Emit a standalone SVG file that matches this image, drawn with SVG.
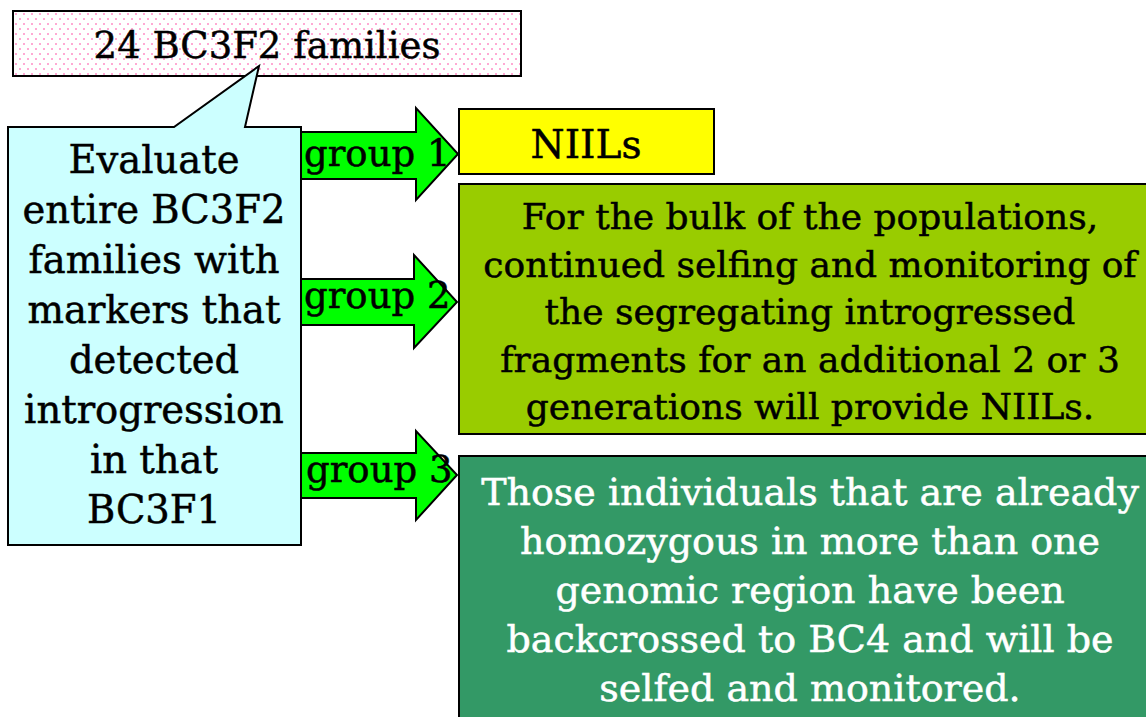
<svg xmlns="http://www.w3.org/2000/svg" width="1146" height="717" viewBox="0 0 1146 717">
<defs>
<pattern id="dots" x="13" y="11" width="8" height="10" patternUnits="userSpaceOnUse">
<rect width="8" height="10" fill="#ffffff"/>
<rect x="2" y="2" width="2" height="2" fill="#ffaad4"/>
<rect x="6" y="7" width="2" height="2" fill="#ffaad4"/>
</pattern>
</defs>
<style>
text{font-family:"DejaVu Serif","Liberation Serif",serif;font-size:37px;text-anchor:middle;fill:#000;stroke:#000;stroke-width:0.5}
.box{stroke:#000;stroke-width:2}
.arrow{fill:#00ff00;stroke:#000;stroke-width:2}
.lbl{text-anchor:start}
.w{fill:#fff;stroke:#fff}
.c{font-size:38.5px}
.o{font-size:36px}
.g{font-size:38px}
</style>
<g id="top-box">
<rect class="box" x="13" y="11" width="508" height="65" fill="url(#dots)"/>
<text x="267" y="58">24 BC3F2 families</text>
</g>
<g id="connectors">
<polygon class="arrow" points="301,132 416,132 416,108 458,154 416,200 416,179 301,179"/>
<polygon class="arrow" points="301,279 414,279 414,255 457,302 414,348 414,325 301,325"/>
<polygon class="arrow" points="301,453 416,453 416,431 457,475 416,520 416,498 301,498"/>
<text class="lbl" x="304" y="166">group 1</text>
<text class="lbl" x="304" y="308">group 2</text>
<text class="lbl" x="306" y="482">group 3</text>
</g>
<g id="callout">
<path class="box" d="M8,127 L174,127 L259,66 L245,127 L301,127 L301,545 L8,545 Z" fill="#ccffff"/>
<text class="c" x="154" y="173">Evaluate</text>
<text class="c" x="154" y="223">entire BC3F2</text>
<text class="c" x="154" y="273">families with</text>
<text class="c" x="154" y="323">markers that</text>
<text class="c" x="154" y="373">detected</text>
<text class="c" x="154" y="423">introgression</text>
<text class="c" x="154" y="473">in that</text>
<text class="c" x="154" y="523">BC3F1</text>
</g>
<g id="niils">
<rect class="box" x="459" y="109" width="255" height="65" fill="#ffff00"/>
<text x="586" y="158" style="font-size:39px">NIILs</text>
</g>
<g id="group2-box">
<rect class="box" x="459" y="184" width="690" height="250" fill="#99cc00"/>
<text class="o" x="810" y="229">For the bulk of the populations,</text>
<text class="o" x="810" y="277">continued selfing and monitoring of</text>
<text class="o" x="810" y="324">the segregating introgressed</text>
<text class="o" x="810" y="372">fragments for an additional 2 or 3</text>
<text class="o" x="810" y="419">generations will provide NIILs.</text>
</g>
<g id="group3-box">
<rect class="box" x="459" y="456" width="690" height="270" fill="#339966"/>
<text class="w g" x="810" y="505">Those individuals that are already</text>
<text class="w g" x="810" y="554">homozygous in more than one</text>
<text class="w g" x="810" y="603">genomic region have been</text>
<text class="w g" x="810" y="652">backcrossed to BC4 and will be</text>
<text class="w g" x="810" y="701">selfed and monitored.</text>
</g>
</svg>
